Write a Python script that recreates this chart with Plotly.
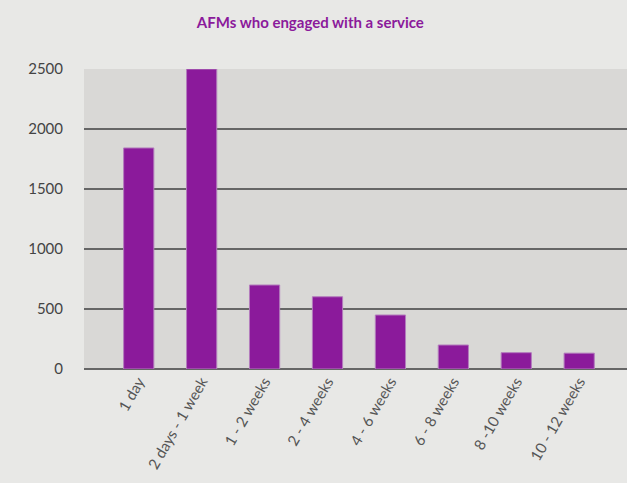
import plotly.graph_objects as go

categories = ["1 day", "2 days - 1 week", "1 - 2 weeks", "2 - 4 weeks", "4 - 6 weeks",
              "6 - 8 weeks", "8 -10 weeks", "10 - 12 weeks"]
values = [1842, 2500, 700, 602, 450, 200, 136, 132]
y_ticks = [0, 500, 1000, 1500, 2000, 2500]

fig = go.Figure(go.Bar(
    x=list(range(len(categories))), y=values,
    marker=dict(color="#8b1a9b", line=dict(color="#b37cbd", width=1)),
    width=0.48,
))

fig.update_layout(
    width=627, height=483,
    margin=dict(l=84, r=0, t=69, b=114),
    paper_bgcolor="#e8e8e6", plot_bgcolor="#d9d8d6",
    title=dict(text="<b>AFMs who engaged with a service</b>", x=0.495, xanchor="center",
               y=0.953, yanchor="middle",
               font=dict(family="Lato, sans-serif", size=15, color="#8b1a9b")),
    font=dict(family="Lato, sans-serif", size=15, color="#444444"),
    showlegend=False,
)
fig.update_xaxes(
    tickmode="array", tickvals=list(range(len(categories))), ticktext=categories,
    tickangle=-60, range=[-0.87, 7.76], showgrid=False, zeroline=False,
    showline=False, ticks="", tickfont=dict(size=15, color="#555555"),
)
fig.update_yaxes(
    range=[0, 2500], tickvals=y_ticks, showgrid=True, gridcolor="#666666", gridwidth=1.5,
    zeroline=True, zerolinecolor="#666666", zerolinewidth=1.5,
    ticklabelstandoff=20, tickfont=dict(size=15, color="#444444"),
)
fig.write_html("out.html", config={"displayModeBar": False},
               post_script="document.body.style.margin='0';document.body.style.padding='0';")
